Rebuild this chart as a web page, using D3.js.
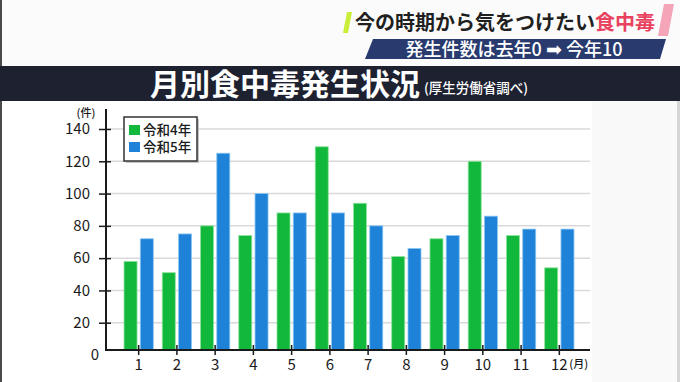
<!DOCTYPE html>
<html>
<head>
<meta charset="utf-8">
<script src="https://cdn.jsdelivr.net/npm/d3@7"></script>
<style>
  html, body { margin: 0; padding: 0; background: #fcfcfc; }
  svg { display: block; font-family: "Noto Sans CJK JP", "Noto Sans", sans-serif; }
</style>
</head>
<body>
<svg id="chart" width="680" height="382"></svg>
<script>
const months = ["1", "2", "3", "4", "5", "6", "7", "8", "9", "10", "11", "12"];
const seriesNames = ["令和4年", "令和5年"];
const reiwa4 = [58, 51, 80, 74, 88, 129, 94, 61, 72, 120, 74, 54];
const reiwa5 = [72, 75, 125, 100, 88, 88, 80, 66, 74, 86, 78, 78];
const yTicks = [0, 20, 40, 60, 80, 100, 120, 140];
const colors = ["#12b83c", "#1d82d8"];
const strokes = ["#8ee39c", "#8cc6f2"];

const svg = d3.select("#chart");
const W = 680, H = 382;

// page backgrounds
svg.append("rect").attr("width", W).attr("height", H).attr("fill", "#fbfbfb");
svg.append("rect").attr("x", 2).attr("y", 101).attr("width", 590).attr("height", H - 101).attr("fill", "#ffffff");
svg.append("rect").attr("x", 592).attr("y", 101).attr("width", 86).attr("height", H - 101).attr("fill", "#f9f9f9");
svg.append("rect").attr("x", 0).attr("y", 0).attr("width", 2).attr("height", H).attr("fill", "#4a4a4a");
svg.append("rect").attr("x", 677).attr("y", 101).attr("width", 3).attr("height", H - 101).attr("fill", "#d6d6d6");

// top banner
svg.append("polygon")
  .attr("points", "347,12 352,12 348,33 343,33")
  .attr("fill", "#c9ef3a");
svg.append("polygon")
  .attr("points", "664,4 674,4 668,36 658,36")
  .attr("fill", "#f4a6b8");
const head = svg.append("text")
  .attr("x", 355).attr("y", 30)
  .style("font-size", "20px").style("font-weight", 700)
  .attr("fill", "#1f1f1f");
head.append("tspan").text("今の時期から気をつけたい");
head.append("tspan").attr("fill", "#e8425e").text("食中毒");

svg.append("polygon")
  .attr("points", "373,39 666,39 660,59 365,59")
  .attr("fill", "#283a6e");
const sub = svg.append("text")
  .attr("x", 514).attr("y", 56)
  .attr("text-anchor", "middle")
  .style("font-size", "18px").style("font-weight", 500)
  .attr("fill", "#ffffff");
sub.append("tspan").text("発生件数は去年0 ");
sub.append("tspan").style("font-family", "DejaVu Sans").style("font-size", "19px").text("➡");
sub.append("tspan").text(" 今年10");

// title bar
svg.append("rect").attr("x", 0).attr("y", 66).attr("width", W).attr("height", 35).attr("fill", "#1e2130");
svg.append("text")
  .attr("x", 150).attr("y", 94.5)
  .style("font-size", "30px").style("font-weight", 700)
  .attr("fill", "#ffffff")
  .text("月別食中毒発生状況");
svg.append("text")
  .attr("x", 424).attr("y", 93)
  .style("font-size", "13.5px").style("font-weight", 500)
  .attr("fill", "#ffffff")
  .text("(厚生労働省調べ)");

// scales
const axisX = 106, axisRight = 590;
const y = d3.scaleLinear().domain([0, 140]).range([355, 129]);
const baseY = y(0) - 5; // x axis sits slightly above the zero label
const x = d3.scaleBand().domain(months).range([108, 590]).paddingInner(0.234).paddingOuter(0.419);
const xs = d3.scaleBand().domain([0, 1]).range([0, x.bandwidth()]).paddingInner(0.2);

// gridlines
svg.append("g")
  .selectAll("line")
  .data(yTicks.filter(d => d > 0))
  .join("line")
  .attr("x1", axisX).attr("x2", axisRight)
  .attr("y1", d => y(d)).attr("y2", d => y(d))
  .attr("stroke", "#d9d9d9").attr("stroke-width", 1.5);

// bars
const bars = svg.append("g");
[reiwa4, reiwa5].forEach((vals, s) => {
  bars.append("g")
    .selectAll("rect")
    .data(vals)
    .join("rect")
    .attr("x", (d, i) => x(months[i]) + xs(s))
    .attr("width", xs.bandwidth())
    .attr("y", d => y(d))
    .attr("height", d => baseY - y(d))
    .attr("fill", colors[s])
    .attr("stroke", strokes[s])
    .attr("stroke-width", 0.8);
});

// y axis
const yAxis = svg.append("g")
  .attr("transform", `translate(${axisX},0)`)
  .call(d3.axisLeft(y).tickValues(yTicks).tickSizeInner(7).tickSizeOuter(0).tickPadding(9));
yAxis.select(".domain").remove();
yAxis.selectAll(".tick line").attr("x1", 5).attr("stroke", "#1a1a1a").attr("stroke-width", 1.5)
  .filter(d => d === 0).remove();
yAxis.selectAll(".tick text")
  .attr("fill", "#1a1a1a")
  .style("font-size", "15px")
  .style("font-family", "\"Noto Sans CJK JP\", sans-serif");
yAxis.selectAll(".tick").filter(d => d === 0).select("text").attr("x", -7);
svg.append("line")
  .attr("x1", axisX).attr("x2", axisX)
  .attr("y1", y(140) - 20).attr("y2", baseY)
  .attr("stroke", "#1a1a1a").attr("stroke-width", 2);

// x axis
const xAxis = svg.append("g")
  .attr("transform", `translate(0,${baseY})`)
  .call(d3.axisBottom(x).tickSizeInner(5).tickSizeOuter(0).tickPadding(4));
xAxis.select(".domain").remove();
xAxis.selectAll(".tick line").attr("y1", -5).attr("stroke", "#1a1a1a").attr("stroke-width", 1.5);
xAxis.selectAll(".tick text")
  .attr("fill", "#1a1a1a")
  .style("font-size", "15px")
  .style("font-family", "\"Noto Sans CJK JP\", sans-serif");
svg.append("line")
  .attr("x1", axisX - 1).attr("x2", axisRight)
  .attr("y1", baseY).attr("y2", baseY)
  .attr("stroke", "#1a1a1a").attr("stroke-width", 2);

// unit labels
svg.append("text")
  .attr("x", 86).attr("y", 117)
  .attr("text-anchor", "middle")
  .style("font-size", "11px").style("font-weight", 500)
  .attr("fill", "#1a1a1a")
  .text("(件)");
svg.append("text")
  .attr("x", x("12") + x.bandwidth() / 2 + 10).attr("y", 368)
  .style("font-size", "11px").style("font-weight", 500)
  .attr("fill", "#1a1a1a")
  .text("(月)");

// legend
const lg = svg.append("g").attr("transform", "translate(124,117)");
lg.append("rect").attr("x", 2).attr("y", 2).attr("width", 73).attr("height", 44).attr("fill", "#c4c4c4");
lg.append("rect").attr("width", 73).attr("height", 44).attr("fill", "#ffffff")
  .attr("stroke", "#333333").attr("stroke-width", 1.5);
seriesNames.forEach((name, i) => {
  const row = lg.append("g").attr("transform", `translate(5,${8 + i * 17})`);
  row.append("rect").attr("width", 11).attr("height", 10).attr("fill", colors[i]);
  row.append("text")
    .attr("x", 14).attr("y", 10)
    .style("font-size", "13.5px").style("font-weight", 500)
    .attr("fill", "#1a1a1a")
    .text(name);
});
</script>
</body>
</html>
